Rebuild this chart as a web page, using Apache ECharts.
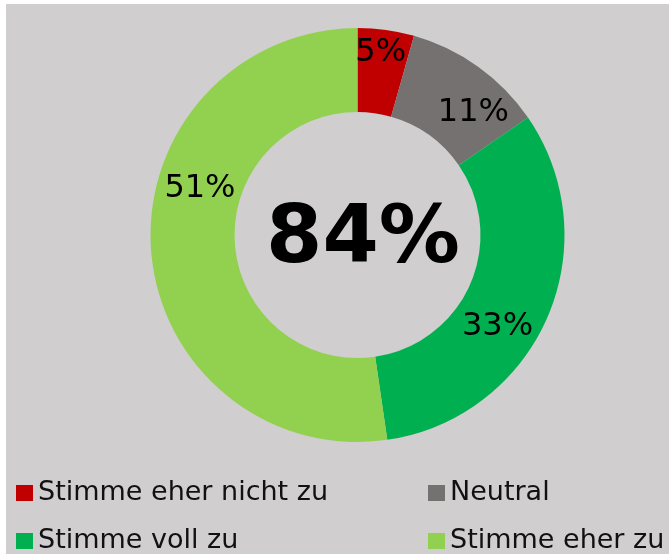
<!DOCTYPE html>
<html>
<head>
<meta charset="utf-8">
<script src="https://cdn.jsdelivr.net/npm/echarts@6/dist/echarts.min.js"></script>
<style>
  html, body { margin: 0; padding: 0; background: #fff; }
  #chart { position: absolute; left: 6px; top: 4px; width: 663px; height: 550px; }
</style>
</head>
<body>
<div id="chart"></div>
<script>
// Anteile der Antworten (im Uhrzeigersinn ab 12 Uhr)
var categories = ['Stimme eher nicht zu', 'Neutral', 'Stimme voll zu', 'Stimme eher zu'];
var shares = [4.4, 11.0, 32.3, 52.3];
var labelTexts = ['5%', '11%', '33%', '51%'];
var colors = ['#C00000', '#767171', '#00B050', '#92D050'];
var centerText = '84%';

// Verschiebung der Beschriftungen gegenüber der Ringmitte
var labelShift = [[0, -16], [18, 14], [-14, 24], [10, -58]];

// Legendenplätze: [links, oben] je Eintrag
var legendSlots = [[10, 475], [422, 475], [10, 523], [422, 523]];

var chart = echarts.init(document.getElementById('chart'), null, { renderer: 'canvas' });

var seriesData = categories.map(function (name, i) {
  return { name: name, value: shares[i], itemStyle: { color: colors[i] } };
});

var legends = categories.map(function (name, i) {
  return {
    left: legendSlots[i][0],
    top: legendSlots[i][1],
    padding: 0,
    itemWidth: 17,
    itemHeight: 16,
    icon: 'rect',
    selectedMode: false,
    textStyle: { fontSize: 27, lineHeight: 28, color: '#111', fontFamily: 'DejaVu Sans' },
    data: [name]
  };
});

chart.setOption({
  backgroundColor: '#D0CECE',
  animation: false,
  legend: legends,
  graphic: [
    {
      type: 'text',
      x: 357,
      y: 237,
      style: {
        text: centerText,
        fill: '#000',
        font: 'bold 81px "DejaVu Sans"',
        align: 'center',
        verticalAlign: 'middle'
      }
    }
  ],
  series: [
    {
      type: 'pie',
      center: [351.5, 231],
      radius: [123, 207],
      startAngle: 90,
      clockwise: true,
      avoidLabelOverlap: false,
      emphasis: { disabled: true },
      label: {
        show: true,
        position: 'inside',
        color: '#000',
        fontSize: 32,
        fontFamily: 'DejaVu Sans',
        formatter: function (p) { return labelTexts[p.dataIndex]; }
      },
      labelLayout: function (p) {
        return { dx: labelShift[p.dataIndex][0], dy: labelShift[p.dataIndex][1] };
      },
      labelLine: { show: false },
      data: seriesData
    }
  ]
});
</script>
</body>
</html>
